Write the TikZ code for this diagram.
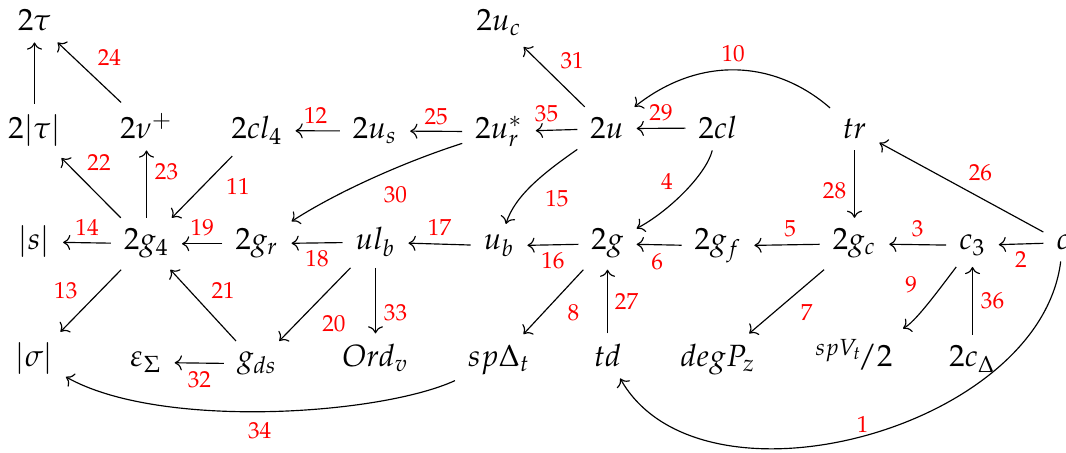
\documentclass[tikz,border=0pt]{standalone}
\usepackage{mathpazo}
\usetikzlibrary{arrows.meta}
\begin{document}
\begin{tikzpicture}[x=0.345pt,y=-0.345pt,
  obj/.style={anchor=base, inner xsep=1ex, inner ysep=0.85ex, font=\fontsize{10.6}{13}\selectfont},
  ar/.style={-{Computer Modern Rightarrow}, line width=0.4pt},
  lab/.style={text=red, font=\fontsize{8}{10}\selectfont, inner sep=0pt}]
\useasboundingbox (0,0) rectangle (1066,453);
% row 0
\node[obj] (t2tau) at (34.5,31) {$2\tau$};
\node[obj] (uc) at (499,31) {$2u_c$};
% row 1
\node[obj] (tabs) at (34.5,139) {$2|\tau|$};
\node[obj] (nup) at (146.5,139) {$2\nu^+$};
\node[obj] (cl4) at (257,139) {$2cl_4$};
\node[obj] (us) at (375,139) {$2u_s$};
\node[obj] (urs) at (499,139) {$2u_r^*$};
\node[obj] (uu) at (607,139) {$2u$};
\node[obj] (cl) at (718,139) {$2cl$};
\node[obj] (tr) at (854.5,139) {$tr$};
% row 2
\node[obj] (sabs) at (34,250) {$|s|$};
\node[obj] (g4) at (146.5,250) {$2g_4$};
\node[obj] (gr) at (257,250) {$2g_r$};
\node[obj] (ulb) at (375.5,250) {$ul_b$};
\node[obj] (ub) at (499,250) {$u_b$};
\node[obj] (gg) at (607.5,250) {$2g$};
\node[obj] (gf) at (718,250) {$2g_f$};
\node[obj] (gc) at (854.5,250) {$2g_c$};
\node[obj] (c3) at (972.5,250) {$c_3$};
\node[obj] (c) at (1063,250) {$c$};
% row 3
\node[obj] (sig) at (34,367) {$|\sigma|$};
\node[obj] (eps) at (146,367) {$\varepsilon_\Sigma$};
\node[obj] (gds) at (257,367) {$g_{ds}$};
\node[obj] (ord) at (375.5,367) {$Ord_v$};
\node[obj] (spd) at (499,367) {$sp\Delta_t$};
\node[obj] (td) at (607.5,367) {$td$};
\node[obj] (deg) at (718,367) {$degP_z$};
\node[obj] (spv) at (854,367) {${}^{spV_t}\!/2$};
\node[obj] (cd) at (972.5,367) {$2c_\Delta$};
% arrows
\draw[ar] (c) .. controls (1040,430) and (700,520) .. (td) node[lab,pos=0.5,shift={(0,-12)}] {$1$};
\draw[ar] (c) -- node[lab,shift={(0,16)}] {$2$} (c3);
\draw[ar] (c3) -- node[lab,shift={(0,-16)}] {$3$} (gc);
\draw[ar] (cl) .. controls (706,175) and (668,212) .. (gg) node[lab,pos=0.5,shift={(-17,-11)}] {$4$};
\draw[ar] (gc) -- node[lab,shift={(3,-16)}] {$5$} (gf);
\draw[ar] (gf) -- node[lab,shift={(-2,17)}] {$6$} (gg);
\draw[ar] (gc) -- node[lab,shift={(20,11)}] {$7$} (deg);
\draw[ar] (gg) -- node[lab,shift={(20,11)}] {$8$} (spd);
\draw[ar] (c3) .. controls (935,295) and (915,322) .. (spv) node[lab,pos=0.5,shift={(-15,-21)}] {$9$};
\draw[ar] (tr) .. controls (775,60) and (700,55) .. (uu) node[lab,pos=0.5,shift={(-3,-16)}] {$10$};
\draw[ar] (cl4) -- node[lab,shift={(36,0)}] {$11$} (g4);
\draw[ar] (us) -- node[lab,shift={(-2,-15)}] {$12$} (cl4);
\draw[ar] (g4) -- node[lab,shift={(-25,-10)}] {$13$} (sig);
\draw[ar] (g4) -- node[lab,shift={(0,-15)}] {$14$} (sabs);
\draw[ar] (uu) .. controls (545,172) and (515,195) .. (ub) node[lab,pos=0.5,shift={(24,14)}] {$15$};
\draw[ar] (gg) -- node[lab,shift={(0,16)}] {$16$} (ub);
\draw[ar] (ub) -- node[lab,shift={(0,-17)}] {$17$} (ulb);
\draw[ar] (ulb) -- node[lab,shift={(0,16)}] {$18$} (gr);
\draw[ar] (gr) -- node[lab,shift={(0,-16)}] {$19$} (g4);
\draw[ar] (ulb) -- node[lab,shift={(19,19)}] {$20$} (gds);
\draw[ar] (gds) -- node[lab,shift={(20,-15)}] {$21$} (g4);
\draw[ar] (g4) -- node[lab,shift={(8,-25)}] {$22$} (tabs);
\draw[ar] (g4) -- node[lab,shift={(20,-12)}] {$23$} (nup);
\draw[ar] (nup) -- node[lab,shift={(20,-15)}] {$24$} (t2tau);
\draw[ar] (tabs) -- (t2tau);
\draw[ar] (urs) -- node[lab,shift={(0,-15)}] {$25$} (us);
\draw[ar] (c) -- node[lab,shift={(19,-15)}] {$26$} (tr);
\draw[ar] (td) -- node[lab,shift={(19,0)}] {$27$} (gg);
\draw[ar] (tr) -- node[lab,shift={(-20,7)}] {$28$} (gc);
\draw[ar] (cl) -- node[lab,shift={(0,-16)}] {$29$} (uu);
\draw[ar] (urs) .. controls (410,160) and (340,190) .. (gr) node[lab,pos=0.5,shift={(20,18)}] {$30$};
\draw[ar] (uu) -- node[lab,shift={(18,-16)}] {$31$} (uc);
\draw[ar] (gds) -- node[lab,shift={(0,17)}] {$32$} (eps);
\draw[ar] (ulb) -- node[lab,shift={(20,12)}] {$33$} (ord);
\draw[ar] (spd) .. controls (380,415) and (160,430) .. (sig) node[lab,pos=0.5,shift={(-8,19)}] {$34$};
\draw[ar] (uu) -- node[lab,shift={(-10,-16)}] {$35$} (urs);
\draw[ar] (cd) -- node[lab,shift={(20,0)}] {$36$} (c3);
\end{tikzpicture}
\end{document}
